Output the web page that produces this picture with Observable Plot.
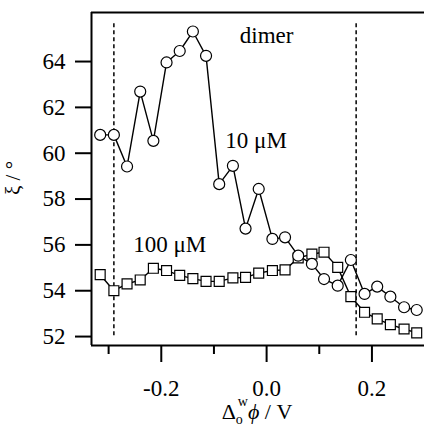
<!DOCTYPE html>
<html>
<head>
<meta charset="utf-8">
<script src="https://cdn.jsdelivr.net/npm/d3@7"></script>
<script src="https://cdn.jsdelivr.net/npm/@observablehq/plot@0.6"></script>
<style>
  html, body { margin: 0; padding: 0; background: #fff; }
  #chart svg { display: block; }
</style>
</head>
<body>
<div id="chart"></div>
<script>
// Potential Δφ (V)
const potential = [-0.316, -0.290, -0.265, -0.240, -0.215, -0.190, -0.165, -0.140, -0.115, -0.090,
  -0.064, -0.040, -0.015, 0.011, 0.035, 0.060, 0.086, 0.109, 0.135, 0.160,
  0.186, 0.210, 0.235, 0.261, 0.285];
// ξ (deg), 10 µM (circles)
const xi10 = [60.80, 60.80, 59.42, 62.69, 60.54, 63.96, 64.46, 65.31, 64.25, 58.65,
  59.45, 56.71, 58.44, 56.26, 56.33, 55.53, 55.17, 54.51, 54.22, 55.34,
  53.86, 54.18, 53.74, 53.28, 53.16];
// ξ (deg), 100 µM (squares)
const xi100 = [54.70, 54.00, 54.30, 54.47, 54.98, 54.88, 54.67, 54.53, 54.41, 54.41,
  54.56, 54.58, 54.77, 54.88, 54.91, 55.43, 55.60, 55.68, 55.02, 53.74,
  53.06, 52.77, 52.52, 52.33, 52.16];
const dashedX = [-0.290, 0.170];
const yTicks = [52, 54, 56, 58, 60, 62, 64];
const xMajor = [-0.2, 0.0, 0.2];
const xMinor = [-0.3, -0.1, 0.1];
const labels = [
  {x: 0.0, y: 65.11, text: "dimer"},
  {x: -0.02, y: 60.56, text: "10 μM"},
  {x: -0.184, y: 56.0, text: "100 μM"}
];

const s10 = potential.map((p, i) => ({p, v: xi10[i]}));
const s100 = potential.map((p, i) => ({p, v: xi100[i]}));

const font = "'Liberation Serif', 'DejaVu Serif', 'Times New Roman', serif";
const xDom = [-0.3325, 0.2998];
const yDom = [51.61, 66.14];

const plot = Plot.plot({
  width: 424,
  height: 426,
  marginLeft: 91,
  marginRight: 0,
  marginTop: 12,
  marginBottom: 81,
  style: {fontFamily: font, fontSize: "23px", background: "white", color: "black"},
  x: {domain: xDom},
  y: {domain: yDom},
  marks: [
    Plot.ruleY([yDom[1]], {stroke: "black", strokeWidth: 2}),
    Plot.ruleX([xDom[0]], {stroke: "black", strokeWidth: 2}),
    Plot.ruleY([yDom[0]], {stroke: "black", strokeWidth: 2}),
    Plot.ruleX(dashedX, {y1: 52.04, y2: 65.77, stroke: "black", strokeWidth: 1.5, strokeDasharray: "4,3"}),
    Plot.axisY({ticks: yTicks, tickSize: 16, tickPadding: 10, strokeWidth: 2, label: null, fontSize: 23}),
    Plot.axisX({ticks: xMajor, tickSize: 17, tickPadding: 17, strokeWidth: 2, label: null, fontSize: 23,
      tickFormat: d => d.toFixed(1)}),
    Plot.axisX({ticks: xMinor, tickSize: 9, strokeWidth: 2, label: null, tickFormat: () => ""}),
    Plot.line(s100, {x: "p", y: "v", stroke: "black", strokeWidth: 1.4}),
    Plot.line(s10, {x: "p", y: "v", stroke: "black", strokeWidth: 1.4}),
    Plot.dot(s100, {x: "p", y: "v", symbol: "square", r: 5.6, fill: "white", stroke: "black", strokeWidth: 1.2}),
    Plot.dot(s10, {x: "p", y: "v", symbol: "circle", r: 5.5, fill: "white", stroke: "black", strokeWidth: 1.2}),
    Plot.text(labels, {x: "x", y: "y", text: "text", fontSize: 23, fill: "black", textAnchor: "middle"})
  ]
});

const svg = d3.select(plot);
svg.selectAll("text")
  .style("font-family", font)
  .style("font-size", "23px")
  .style("fill", "black");

// y-axis label
svg.append("text")
  .attr("transform", "translate(20,178) rotate(-90)")
  .attr("text-anchor", "middle")
  .style("font-family", font)
  .style("font-size", "21px")
  .text("ξ / °");
// x-axis label: Δ_o^w ϕ / V
const xl = svg.append("text")
  .attr("x", 257)
  .attr("y", 419)
  .attr("text-anchor", "middle")
  .style("font-family", font)
  .style("font-size", "22px");
xl.append("tspan").text("Δ");
xl.append("tspan").style("font-size", "14px").attr("dy", 5).text("o");
xl.append("tspan").style("font-size", "14px").attr("dx", -5).attr("dy", -18).text("w");
xl.append("tspan").attr("dy", 13).style("font-style", "italic").text("ϕ");
xl.append("tspan").text(" / V");

document.getElementById("chart").appendChild(plot);
</script>
</body>
</html>
